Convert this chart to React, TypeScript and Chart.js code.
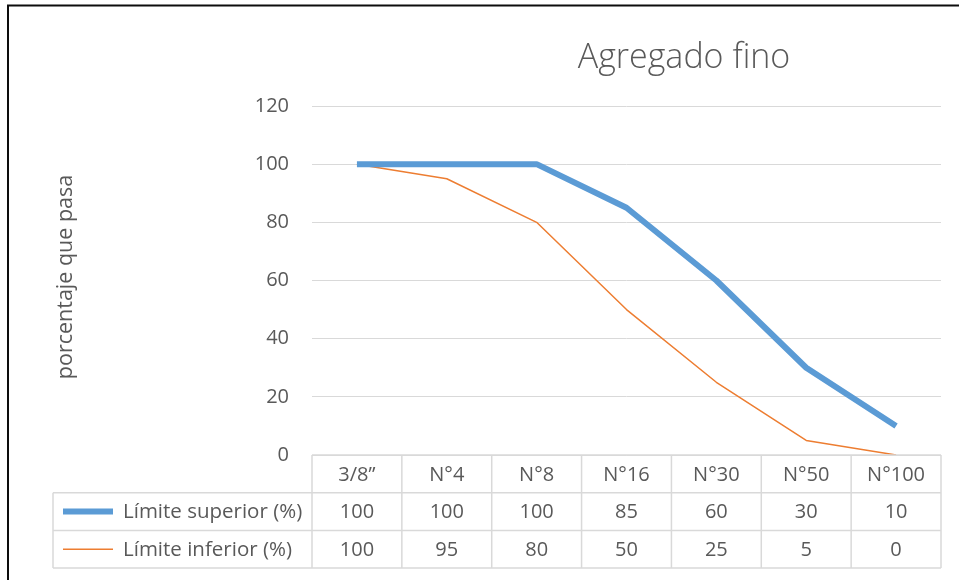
import React, { useEffect, useRef } from "react";
import { Chart, registerables } from "chart.js";

Chart.register(...registerables);

const categories = ["3/8\u201D", "N°4", "N°8", "N°16", "N°30", "N°50", "N°100"];
const superior = [100, 100, 100, 85, 60, 30, 10];
const inferior = [100, 95, 80, 50, 25, 5, 0];
const seriesNames = ["Límite superior (%)", "Límite inferior (%)"];
const chartTitle = "Agregado fino";
const yAxisTitle = "porcentaje que pasa";
const yMin = 0;
const yMax = 120;
const yStep = 20;

const FONT = "'Open Sans', 'Noto Sans', sans-serif";
const TEXT = "#595959";
const GRID = "#d9d9d9";
const BLUE = "#5b9bd5";
const ORANGE = "#ed7d31";

const decorPlugin = {
  id: "decor",
  afterDraw(chart: any) {
    const ctx = chart.ctx as CanvasRenderingContext2D;
    const area = chart.chartArea;
    const xs = chart.scales.x;
    const n = categories.length;
    const band = xs.getPixelForValue(1) - xs.getPixelForValue(0);
    const edges: number[] = [];
    for (let i = 0; i <= n; i++) {
      edges.push(i < n ? xs.getPixelForValue(i) - band / 2 : xs.getPixelForValue(n - 1) + band / 2);
    }
    const rowH = 37.7;
    const top = area.bottom;
    const r1 = top + rowH;
    const r2 = r1 + rowH;
    const r3 = r2 + rowH;
    const labelLeft = 53;
    const right = edges[n];

    ctx.save();
    // table lines
    ctx.strokeStyle = GRID;
    ctx.lineWidth = 1.5;
    ctx.beginPath();
    ctx.moveTo(edges[0], top);
    ctx.lineTo(right, top);
    [r1, r2, r3].forEach((y) => {
      ctx.moveTo(labelLeft, y);
      ctx.lineTo(right, y);
    });
    edges.forEach((x) => {
      ctx.moveTo(x, top);
      ctx.lineTo(x, r3);
    });
    ctx.moveTo(labelLeft, r1);
    ctx.lineTo(labelLeft, r3);
    ctx.stroke();

    // table text
    ctx.fillStyle = TEXT;
    ctx.font = `20px ${FONT}`;
    ctx.textAlign = "center";
    ctx.textBaseline = "middle";
    categories.forEach((c, i) => {
      const cx = (edges[i] + edges[i + 1]) / 2;
      ctx.fillText(c, cx, (top + r1) / 2 + 1);
      ctx.fillText(String(superior[i]), cx, (r1 + r2) / 2 + 1);
      ctx.fillText(String(inferior[i]), cx, (r2 + r3) / 2 + 1);
    });

    // legend keys + series names
    const rows = [
      { y: (r1 + r2) / 2, color: BLUE, w: 6, name: seriesNames[0] },
      { y: (r2 + r3) / 2, color: ORANGE, w: 1.5, name: seriesNames[1] },
    ];
    rows.forEach((r) => {
      ctx.strokeStyle = r.color;
      ctx.lineWidth = r.w;
      ctx.beginPath();
      ctx.moveTo(63, r.y);
      ctx.lineTo(113, r.y);
      ctx.stroke();
      ctx.fillStyle = TEXT;
      ctx.textAlign = "left";
      ctx.font = `20.5px ${FONT}`;
      ctx.fillText(r.name, 123, r.y + 1);
    });

    // title
    ctx.font = `300 34px ${FONT}`;
    ctx.textAlign = "center";
    ctx.textBaseline = "middle";
    ctx.fillStyle = TEXT;
    ctx.fillText(chartTitle, 684, 58);

    // y axis title
    ctx.save();
    ctx.translate(66, 277);
    ctx.rotate(-Math.PI / 2);
    ctx.font = `21.5px ${FONT}`;
    ctx.fillText(yAxisTitle, 0, 0);
    ctx.restore();

    // frame (top and left edges)
    ctx.strokeStyle = "#0d0d0d";
    ctx.lineWidth = 2;
    ctx.beginPath();
    ctx.moveTo(8, 580);
    ctx.lineTo(8, 5.5);
    ctx.lineTo(959, 5.5);
    ctx.stroke();
    ctx.restore();
  },
};

export default function App() {
  const ref = useRef<HTMLCanvasElement | null>(null);
  useEffect(() => {
    if (!ref.current) return;
    const chart = new Chart(ref.current, {
      type: "line",
      data: {
        labels: categories,
        datasets: [
          {
            label: seriesNames[0],
            data: superior,
            borderColor: BLUE,
            backgroundColor: BLUE,
            borderWidth: 6,
            pointRadius: 0,
            tension: 0,
            borderJoinStyle: "round",
          },
          {
            label: seriesNames[1],
            data: inferior,
            borderColor: ORANGE,
            backgroundColor: ORANGE,
            borderWidth: 1.5,
            pointRadius: 0,
            tension: 0,
            borderJoinStyle: "round",
          },
        ],
      },
      options: {
        animation: false,
        responsive: false,
        maintainAspectRatio: false,
        layout: { padding: { left: 0, top: 106, right: 18, bottom: 125 } },
        plugins: {
          legend: { display: false },
          title: { display: false },
          tooltip: { enabled: false },
        },
        scales: {
          x: {
            type: "category",
            display: false,
            offset: true,
          },
          y: {
            min: yMin,
            max: yMax,
            ticks: {
              stepSize: yStep,
              color: TEXT,
              padding: 23,
              font: { family: FONT, size: 20 },
            },
            grid: { color: GRID, lineWidth: 1, drawTicks: false },
            border: { display: false },
            afterFit: (s: any) => {
              s.width = 312;
            },
          },
        },
      },
      plugins: [decorPlugin],
    });
    return () => chart.destroy();
  }, []);
  return (
    <div style={{ position: "absolute", left: 0, top: 0, width: 959, height: 580, background: "#fff" }}>
      <canvas ref={ref} width={959} height={580} style={{ display: "block", width: 959, height: 580 }} />
    </div>
  );
}
